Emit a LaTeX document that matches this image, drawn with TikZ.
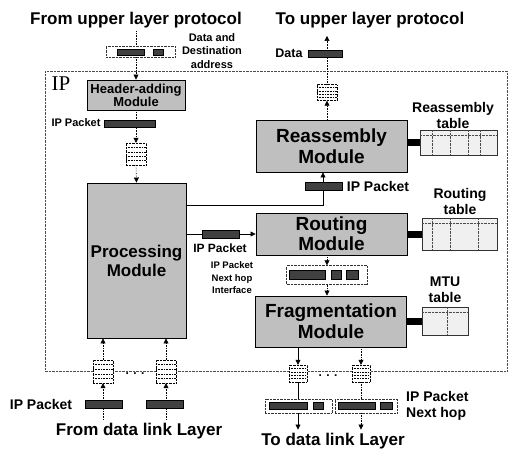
\documentclass[tikz,border=0pt]{standalone}
\usepackage{fontspec}
\setmainfont{Liberation Sans}
\newfontfamily\ipfont{Liberation Serif}
\usetikzlibrary{arrows.meta,calc}

\begin{document}
\begin{tikzpicture}[x=1pt, y=-1pt, >={Triangle[length=5pt, width=5pt]},
    module/.style={draw=black, line width=0.9pt, fill=gray!50, align=center, inner sep=0pt, font=\bfseries\fontsize{19}{21}\selectfont},
    queue/.style={draw=black, densely dotted, fill=white, inner sep=0pt, minimum width=20pt, minimum height=20pt,
        path picture={\foreach \k in {1,...,4}
            \draw[black, densely dotted, semithick] ($(path picture bounding box.north west)!\k/5!(path picture bounding box.south west)$) -- ($(path picture bounding box.north east)!\k/5!(path picture bounding box.south east)$);}},
    pkt/.style={draw=black, fill=black!75, inner sep=0pt, minimum height=7pt},
    pbox/.style={draw=black!80, densely dotted, fill=white, inner sep=0pt},
    tbl/.style={draw=black!80, fill=gray!12, inner sep=0pt},
    tline/.style={black!70, densely dotted},
    flow/.style={densely dotted, semithick, ->},
    solidflow/.style={semithick, ->},
    link/.style={black, line width=7pt},
    title/.style={font=\bfseries\fontsize{17}{20}\selectfont},
    lbl/.style={font=\bfseries\fontsize{14}{16}\selectfont, align=center, inner sep=1pt},
    slbl/.style={font=\bfseries\fontsize{11}{13.5}\selectfont, align=center, inner sep=1pt},
    tlbl/.style={font=\bfseries\fontsize{9.5}{12.5}\selectfont, align=center, inner sep=1pt},
    dotlbl/.style={font=\bfseries\fontsize{12}{12}\selectfont, anchor=base}]

    \useasboundingbox (0,0) rectangle (508,452);

    % --- IP BORDER ---
    \draw[densely dotted, black!70] (45,71) rectangle (507,371);
    \node[font=\ipfont\fontsize{21}{21}\selectfont, inner sep=0pt] (iplbl) at (61,84) {IP};

    % --- SENDING SIDE ---
    \node[title] (fromup) at (136,20) {From upper layer protocol};
    \node[pbox, minimum width=69pt, minimum height=11pt] (updata) at (140.5,51.5) {};
    \node[slbl] (updatalbl) at (212,51) {Data and\\Destination\\address};
    \node[module, minimum width=98pt, minimum height=30pt, font=\bfseries\fontsize{13}{13}\selectfont] (hdr) at (136,95) {Header-adding\\Module};
    \node[queue, minimum height=22pt] (qhdr) at (136,154) {};
    \node[module, minimum width=99pt, minimum height=155pt, font=\bfseries\fontsize{17}{19}\selectfont] (proc) at (136.5,260.5) {Processing\\Module};

    \draw[densely dotted, semithick] (fromup.south -| hdr) -- (updata.north -| hdr);
    \draw[flow] (updata.south -| hdr) -- (hdr.north);
    \draw[flow] (hdr.south) -- (qhdr.north);
    \draw[flow] (qhdr.south) -- (proc.north);

    \node[pkt, minimum width=27pt, minimum height=6pt] (updatabar) at (130.5,52) {};
    \node[pkt, minimum width=10pt, minimum height=6pt] (updataaddr) at (158,52) {};
    \node[slbl] (hdrlbl) at (76,123) {IP Packet};
    \node[pkt, minimum width=51pt] (hdrpkt) at (129.5,123.5) {};

    % --- RECEIVING SIDE ---
    \node[title] (toup) at (370,20) {To upper layer protocol};
    \coordinate (toupend) at (327,36);
    \node[queue, minimum height=16pt] (qdata) at (327,92.5) {};
    \node[module, minimum width=151pt, minimum height=52pt] (reas) at (331.5,146) {Reassembly\\Module};
    \draw[flow] (reas.north -| qdata) -- (qdata.south);
    \draw[flow] (qdata.north) -- (toupend);
    \node[slbl, font=\bfseries\fontsize{12.5}{14}\selectfont] (datalbl) at (289,53) {Data};
    \node[pkt, minimum width=34pt] (databar) at (325,53.5) {};

    % Reassembly table
    \node[tbl, minimum width=77pt, minimum height=25pt] (rtab) at (458.5,142.5) {};
    \draw[link] (reas.east |- rtab.west) -- (rtab.west);
    \draw[tline] (420,135) -- (497,135);
    \foreach \xx in {432,450,468,480}
        \draw[tline] (\xx,130) -- (\xx,155);
    \node[lbl] (rtablbl) at (453,115) {Reassembly\\table};

    % --- ROUTING ---
    \node[module, minimum width=151pt, minimum height=42pt, font=\bfseries\fontsize{19}{20}\selectfont] (rout) at (331.5,234) {Routing\\Module};
    \node[tbl, minimum width=75pt, minimum height=32pt] (rttab) at (459.5,234) {};
    \draw[link] (rout.east) -- (rttab.west);
    \draw[tline] (422,223) -- (497,223);
    \foreach \xx in {432,450,478}
        \draw[tline] (\xx,218) -- (\xx,250);
    \node[lbl] (rttablbl) at (460,201) {Routing\\table};

    \draw[solidflow] (proc.east |- rout.west) -- (rout.west);
    \node[pkt, minimum width=37pt, minimum height=8pt] (procpkt) at (220.5,234) {};
    \node[slbl, font=\bfseries\fontsize{12}{14}\selectfont] (proclbl) at (220,248) {IP Packet};

    \coordinate (bend) at (323,205);
    \draw[solidflow] (proc.east |- bend) -- (bend) -- (bend |- reas.south);
    \node[pkt, minimum width=37pt, minimum height=8pt] (reaspkt) at (324,186) {};
    \node[lbl] (reaspktlbl) at (378,186) {IP Packet};

    % --- FRAGMENTATION ---
    \node[pbox, minimum width=81pt, minimum height=19pt] (nhbox) at (327,275) {};
    \node[pkt, minimum width=36pt, minimum height=9pt] (nhpkt) at (307,274.5) {};
    \node[pkt, minimum width=10pt, minimum height=9pt] (nhhop) at (336,274.5) {};
    \node[pkt, minimum width=12pt, minimum height=9pt] (nhif) at (352,274.5) {};
    \node[tlbl] (nhlbl) at (232,278) {IP Packet\\Next hop\\Interface};
    \node[module, minimum width=151pt, minimum height=51pt] (frag) at (331,321.5) {Fragmentation\\Module};
    \draw[flow] (nhbox |- rout.south) -- (nhbox.north);
    \draw[flow] (nhbox.south) -- (nhbox |- frag.north);

    % MTU table
    \node[tbl, minimum width=46pt, minimum height=28pt] (mtutab) at (445,321) {};
    \draw[link] (frag.east |- mtutab.west) -- (mtutab.west);
    \draw[tline] (422,312) -- (468,312);
    \draw[tline] (447,307) -- (447,335);
    \node[lbl] (mtulbl) at (445,290) {MTU\\table};

    % --- TO DATA LINK ---
    \node[queue, minimum width=18pt, minimum height=17pt] (qout1) at (298,373.5) {};
    \node[queue, minimum width=18pt, minimum height=17pt] (qout2) at (361,373.5) {};
    \node[dotlbl] (dotsout) at (328,376) {. . .};
    \node[pbox, minimum width=67pt, minimum height=14pt] (ob1) at (298.5,406) {};
    \node[pbox, minimum width=62pt, minimum height=14pt] (ob2) at (366,406) {};
    \node[title] (todl) at (333,441) {To data link Layer};

    \draw[solidflow] (qout1 |- frag.south) -- (qout1.north);
    \draw[flow] (qout2 |- frag.south) -- (qout2.north);
    \draw[semithick] (qout1.south) -- (qout1.south |- ob1.north);
    \draw[densely dotted, semithick] (qout2.south) -- (qout2.south |- ob2.north);
    \draw[solidflow] (qout1 |- ob1.south) -- (qout1 |- todl.north);
    \draw[flow] (qout2 |- ob2.south) -- (qout2 |- todl.north);

    \node[pkt, minimum width=38pt] (ob1pkt) at (288,406) {};
    \node[pkt, minimum width=10pt] (ob1hop) at (318,406) {};
    \node[pkt, minimum width=37pt] (ob2pkt) at (356.5,406) {};
    \node[pkt, minimum width=12pt] (ob2hop) at (386,406) {};
    \node[lbl, align=left, anchor=west] (oblbl) at (405,406) {IP Packet\\Next hop};

    % --- FROM DATA LINK ---
    \node[queue, minimum height=23pt] (qin1) at (103,371.5) {};
    \node[queue, minimum height=23pt] (qin2) at (166,371.5) {};
    \node[dotlbl] (dotsin) at (135,374) {. . .};
    \node[title] (fromdl) at (139,431) {From data link Layer};

    \draw[flow] (qin1 |- fromdl.north) -- (qin1.south);
    \draw[flow] (qin2 |- fromdl.north) -- (qin2.south);
    \draw[flow] (qin1.north) -- (qin1 |- proc.south);
    \draw[flow] (qin2.north) -- (qin2 |- proc.south);

    \node[pkt, minimum width=37pt, minimum height=8pt] (inpkt1) at (103.5,404) {};
    \node[pkt, minimum width=37pt, minimum height=8pt] (inpkt2) at (165,404) {};
    \node[lbl] (inlbl) at (41,404) {IP Packet};
\end{tikzpicture}
\end{document}
